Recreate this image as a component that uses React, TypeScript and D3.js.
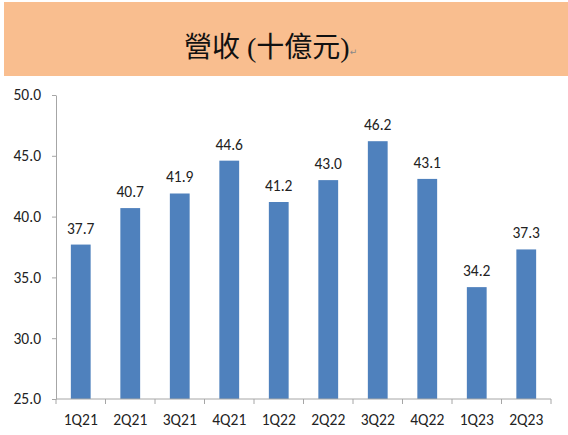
import { useEffect, useRef } from 'react'
import * as d3 from 'd3'

const quarters = ['1Q21', '2Q21', '3Q21', '4Q21', '1Q22', '2Q22', '3Q22', '4Q22', '1Q23', '2Q23']
const revenue = [37.7, 40.7, 41.9, 44.6, 41.2, 43.0, 46.2, 43.1, 34.2, 37.3]
const yTicks = [25, 30, 35, 40, 45, 50]
const title = '營收 (十億元)'

export default function App() {
  const svgRef = useRef<SVGSVGElement>(null)

  useEffect(() => {
    if (!svgRef.current) return
    const svg = d3.select(svgRef.current)
    svg.selectAll('*').remove()

    const width = 568
    const height = 435
    const labelFont = 'Carlito, Lato, "Open Sans", sans-serif'
    const labelSize = 15.5

    svg.attr('width', width).attr('height', height).attr('viewBox', `0 0 ${width} ${height}`)

    // title banner
    svg.append('rect')
      .attr('x', 4).attr('y', 2)
      .attr('width', width - 4).attr('height', 74)
      .attr('fill', '#F9BE8F')

    const t = svg.append('text')
      .attr('x', 184).attr('y', 57)
      .attr('font-family', '"Liberation Serif", "Noto Sans CJK TC", serif')
      .attr('font-size', 28)
      .attr('fill', '#111')
      .text(title)
    t.append('tspan')
      .attr('font-family', '"DejaVu Sans", sans-serif')
      .attr('font-size', 9)
      .attr('fill', '#888')
      .attr('dy', -2)
      .text('↵')

    const left = 56
    const right = 551
    const top = 95
    const bottom = 399

    const x = d3.scaleBand<string>().domain(quarters).range([left, right]).paddingInner(0.6).paddingOuter(0.3)
    const y = d3.scaleLinear().domain([25, 50]).range([bottom, top])

    // y axis
    const yAxis = svg.append('g')
      .attr('transform', `translate(${left},0)`)
      .call(d3.axisLeft(y).tickValues(yTicks).tickSize(4).tickSizeOuter(0).tickPadding(11).tickFormat(d3.format('.1f')))
    yAxis.select('.domain').attr('stroke', '#A6A6A6')
    yAxis.selectAll('.tick line').attr('stroke', '#A6A6A6')
    yAxis.selectAll('.tick text')
      .attr('font-family', labelFont).attr('font-size', labelSize).attr('fill', '#222')

    // bars
    svg.append('g')
      .selectAll('rect')
      .data(revenue)
      .join('rect')
      .attr('x', (_, i) => x(quarters[i])!)
      .attr('width', x.bandwidth())
      .attr('y', d => y(d))
      .attr('height', d => bottom - y(d))
      .attr('fill', '#4F81BD')

    // value labels
    svg.append('g')
      .selectAll('text')
      .data(revenue)
      .join('text')
      .attr('x', (_, i) => x(quarters[i])! + x.bandwidth() / 2)
      .attr('y', d => y(d) - 11)
      .attr('text-anchor', 'middle')
      .attr('font-family', labelFont)
      .attr('font-size', labelSize)
      .attr('fill', '#222')
      .text(d => d.toFixed(1))

    // x axis with ticks at category boundaries
    const step = x.step()
    const xg = svg.append('g')
    xg.append('line')
      .attr('x1', left).attr('x2', right)
      .attr('y1', bottom).attr('y2', bottom)
      .attr('stroke', '#A6A6A6')
    xg.selectAll('line.tk')
      .data(d3.range(quarters.length + 1))
      .join('line')
      .attr('class', 'tk')
      .attr('x1', i => left + i * step).attr('x2', i => left + i * step)
      .attr('y1', bottom).attr('y2', bottom + 5)
      .attr('stroke', '#A6A6A6')
    xg.selectAll('text')
      .data(quarters)
      .join('text')
      .attr('x', d => x(d)! + x.bandwidth() / 2)
      .attr('y', 425)
      .attr('text-anchor', 'middle')
      .attr('font-family', labelFont)
      .attr('font-size', labelSize)
      .attr('fill', '#222')
      .text(d => d)
  }, [])

  return (
    <div style={{ position: 'absolute', left: 0, top: 0, background: '#fff' }}>
      <svg ref={svgRef} style={{ display: 'block' }} />
    </div>
  )
}
